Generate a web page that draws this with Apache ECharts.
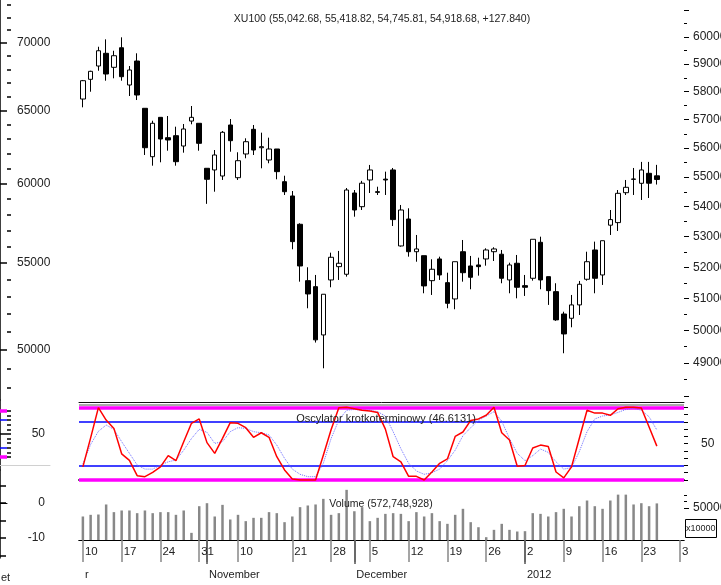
<!DOCTYPE html>
<html><head><meta charset="utf-8">
<script src="https://cdn.jsdelivr.net/npm/echarts@6/dist/echarts.min.js"></script>
<style>html,body{margin:0;padding:0;background:#fff}#c{width:721px;height:585px}</style>
</head><body><div id="c"></div>
<script>
const dates = ['2011-10-10','2011-10-11','2011-10-12','2011-10-13','2011-10-14','2011-10-17','2011-10-18','2011-10-19','2011-10-20','2011-10-21',
'2011-10-24','2011-10-25','2011-10-26','2011-10-27','2011-10-28','2011-10-31','2011-11-01','2011-11-02','2011-11-03','2011-11-04',
'2011-11-10','2011-11-11','2011-11-14','2011-11-15','2011-11-16','2011-11-17','2011-11-18','2011-11-21','2011-11-22','2011-11-23',
'2011-11-24','2011-11-25','2011-11-28','2011-11-29','2011-11-30','2011-12-01','2011-12-02','2011-12-05','2011-12-06','2011-12-07',
'2011-12-08','2011-12-09','2011-12-12','2011-12-13','2011-12-14','2011-12-15','2011-12-16','2011-12-19','2011-12-20','2011-12-21',
'2011-12-22','2011-12-23','2011-12-26','2011-12-27','2011-12-28','2011-12-29','2011-12-30','2012-01-02','2012-01-03','2012-01-04',
'2012-01-05','2012-01-06','2012-01-09','2012-01-10','2012-01-11','2012-01-12','2012-01-13','2012-01-16','2012-01-17','2012-01-18',
'2012-01-19','2012-01-20','2012-01-23','2012-01-24','2012-01-25','2012-01-26','2012-01-27','2012-01-30'];

const opens  = [57733,58444,58929,59396,58881,59602,58238,59112,57401,55701,57080,56363,56433,56072,56948,56869,55301,55244,55037,56809,
54979,55795,56657,56013,55587,55968,54843,54358,53411,51572,51381,49862,51595,52023,51778,54459,53998,54901,54503,54930,
55244,52696,53586,52508,52379,51572,52272,51509,50990,52508,52045,52078,52272,52508,52426,51595,52133,51413,51649,52816,
51701,51222,50515,50381,50801,51617,52565,51755,53381,53466,54469,54935,54788,55129,55042.68];
const closes = [58394,58735,59491,58637,59307,58539,58783,57877,56013,56869,56317,56282,55529,56668,57080,56166,54924,55760,56552,56258,
55563,56222,55933,56048,55968,55186,54503,52838,52045,51148,49710,51139,52327,52133,54560,53887,54792,55244,54480,54901,
53566,53887,52508,52598,51404,51939,51755,50852,52183,51828,51681,52023,52565,52598,51649,52078,51361,51361,52915,51595,
51254,50331,49893,50801,51457,52183,51649,52868,53566,54448,54652,54924,55244,54790.84,54918.68];
const lows   = [57436,57995,58757,58394,58481,58394,57841,57697,55760,55391,55508,55909,55391,55840,56834,55909,54093,54503,54901,55874,
54901,55646,55760,55301,55474,54924,54392,52588,51540,50695,49627,48840,51361,51595,51701,53663,53887,54459,54392,54392,
53354,52673,52347,52183,51170,51116,51595,50695,50664,51540,51297,51733,52055,52207,51489,51170,51010,51085,51572,51297,
50801,50300,49298,50100,50485,51572,51170,51435,53057,53189,54392,54392,54223,54290,54745.81];
const highs  = [58420,58757,59639,59914,59491,59989,58929,59396,57401,56960,57080,57127,56749,56844,57483,56869,55301,55933,56598,57020,
55854,56341,56809,56538,56363,55968,55047,54526,53444,52003,51755,51139,52477,52533,54628,54560,54870,55416,54672,55186,
55312,54055,53944,53057,52379,52262,52347,51828,52183,52892,52370,52314,52620,52653,52565,52151,52402,51755,52915,53001,
51701,51489,50587,51116,51563,52508,52838,52868,53887,54560,54901,55312,55521,55521,55418.82];

const oscK = [18,58,99.5,82.5,71,36,27,6,4.6,10.5,18,33.5,26.6,52.7,78,84,51.4,36.7,57.3,78.9,
78,72,58.7,65,58.7,32,13.8,1.4,0,0,0,34,69,99.5,100,98,96,95,93,70,
32,25,5,5,0,11,23,29,60,66,82,84,89,100,65,55,19,20,44,48,
46,11,3,18,57,96,92,92,89,98,100,100,99,73,46.6131];
const oscD = [22,49,67,75.6,69.7,52.7,36.7,20.6,15,15,20.6,25,27.5,41,57,69.7,65.6,50.4,52.7,66.5,
72,71,66.5,65,62,48,29.8,15,7.8,4.6,4.6,23,57,82.5,96,97,96,96,94,88,
66.5,43,22.9,12.4,7.8,10,15,26.6,41,61,72,82,88,94,81,57,36.7,26.6,33.5,42.6,
38,25,15,17,39,66.5,84,88,89.4,93,97,98.6,96,87,68.8];
const volume = [36800,39400,39900,55600,43600,46200,46200,42000,46200,42000,43600,43600,39400,46200,11200,52900,57600,36800,55000,32100,
39400,29500,34700,34700,43600,42000,27900,36800,51400,54000,55600,64400,39400,42000,78500,45000,51400,29500,34700,40900,
42000,40900,29500,43600,36800,42000,29500,25300,39400,48800,27900,20000,4400,15900,25300,15900,13300,13800,42000,40900,
36800,43600,48800,36800,52900,61800,52900,48800,61800,71000,71000,55600,57600,52900,57274.8928];

const oscLevels = [100, 80, 20, 0];
const priceMajorTicks = [48000,49000,50000,51000,52000,53000,54000,55000,56000,57000,58000,59000,60000,61000];
const priceMinorTicks = [48500,49500,50500,51500,52500,53500,54500,55500,56500,57500,58500,59500,60500];
const priceLabels = [49000,50000,51000,52000,53000,54000,55000,56000,57000,58000,59000,60000];
const ghostMajor = [50000,55000,60000,65000,70000];
const ghostMinor = [48000,49000,51000,52000,53000,54000,56000,57000,58000,59000,61000,62000,63000,64000,66000,67000,68000,69000,71000,72000,73000];
const oscTicks = [0,10,20,30,40,50,60,70,80,90,100];
const oscLabels = [50];
const volMajor = [50000], volMinor = [60000,70000];
const ghostOscMajor = [0,50,100], ghostOscLabels = [50];
const ghostLowTicks = [5,0,-5,-10,-15], ghostLowLabels = [0,-10];
const weekStarts = [0,5,10,15,20,27,32,37,42,47,52,57,62,67,72,77];
const monthStarts = [16,35,57];
const monthLabels = {0:'r',16:'November',35:'December',57:'2012'};

const FONT = "'Liberation Sans',Arial,sans-serif";
const TXT = '#222';
const L = 79, W = 605;

const chart = echarts.init(document.getElementById('c'), null, {renderer:'canvas'});
const candles = opens.map((o,i)=>[Math.log(o), Math.log(closes[i]), Math.log(lows[i]), Math.log(highs[i])]);
const lbl = (extra)=>Object.assign({fontFamily:FONT, color:TXT, fontSize:12}, extra);
const noSplit = {show:false};
const ttl = (size)=>({fontSize:size, fontWeight:'normal', fontFamily:FONT, color:TXT});
const g = (o)=>Object.assign({outerBoundsMode:'none', containLabel:false}, o);
const plain = (v)=>String(v);
const dayLabel = (v,i)=>{ const s = String(parseInt(v.slice(8),10)); return i === dates.length-1 ? s.slice(0,1) : s; };

const option = {
  animation:false,
  backgroundColor:'#fff',
  title:[
    {text:'XU100 (55,042.68, 55,418.82, 54,745.81, 54,918.68, +127.840)', left:382, top:14, textAlign:'center', padding:0, textStyle:ttl(10.5)},
    {text:'Oscylator krotkoterminowy (46.6131)', left:386, top:413, textAlign:'center', padding:0, textStyle:ttl(11)},
    {text:'Volume (572,748,928)', left:381, top:499, textAlign:'center', padding:0, textStyle:ttl(10.5)},
    {text:'x10000', left:685, top:519, padding:[5,1,5,1], borderColor:'#000', borderWidth:1, textStyle:ttl(9)},
    {text:'et', left:1, top:572, padding:0, textStyle:ttl(11)}
  ],
  grid:[
    g({left:L, width:W, top:0, height:400}),
    g({left:L, width:W, top:402, height:80}),
    g({left:L, width:W, top:483, height:57}),
    g({left:0, width:7, top:0, height:400}),
    g({left:0, width:7, top:400, height:70}),
    g({left:0, width:7, top:470, height:88}),
    g({left:0, width:50, top:400, height:65})
  ],
  xAxis:[
    {gridIndex:0, type:'category', data:dates, show:false},
    {gridIndex:1, type:'category', data:dates, position:'bottom', axisLine:{lineStyle:{color:'#333', width:2}}, axisTick:{show:false}, axisLabel:{show:false}},
    {gridIndex:1, type:'category', data:dates, position:'top', axisLine:{lineStyle:{color:'#111', width:1}}, axisTick:{show:false}, axisLabel:{show:false}},
    {gridIndex:2, type:'category', data:dates, position:'bottom',
     axisLine:{lineStyle:{color:'#000', width:1}},
     axisTick:{show:true, alignWithLabel:true, length:22, interval:(i)=>weekStarts.includes(i)||monthStarts.includes(i), lineStyle:{color:'#888', width:1.5}},
     axisLabel:{interval:(i)=>weekStarts.includes(i), formatter:dayLabel, align:'left', padding:[0,0,0,2], margin:6, ...lbl({fontSize:11.5})}},
    {gridIndex:2, type:'category', data:dates, position:'bottom', offset:22,
     axisLine:{lineStyle:{color:'#000', width:1}},
     axisTick:{show:true, alignWithLabel:true, length:24, interval:(i)=>monthStarts.includes(i), lineStyle:{color:'#555', width:1.5}},
     axisLabel:{interval:(i)=>monthLabels[i]!==undefined, formatter:(v,i)=>monthLabels[i]||'', align:'left', padding:[0,0,0,2], margin:7, ...lbl({fontSize:11})}},
    {gridIndex:3, type:'value', show:false, min:0, max:1},
    {gridIndex:4, type:'value', show:false, min:0, max:1},
    {gridIndex:5, type:'value', min:0, max:1, axisLine:{show:true, lineStyle:{color:'#000'}}, axisTick:{show:false}, axisLabel:{show:false}, splitLine:noSplit},
    {gridIndex:6, type:'value', min:0, max:1, axisLine:{show:true, lineStyle:{color:'#d0d0d0'}}, axisTick:{show:false}, axisLabel:{show:false}, splitLine:noSplit}
  ],
  yAxis:[
    {gridIndex:0, type:'value', position:'right', min:10.7766, max:11.0251, splitLine:noSplit, axisLine:{show:false},
     axisTick:{show:true, customValues:priceMajorTicks.map(Math.log), length:5, lineStyle:{color:'#000'}},
     axisLabel:{customValues:priceLabels.map(Math.log), formatter:(v)=>String(Math.round(Math.exp(v))), margin:9, ...lbl({})}},
    {gridIndex:0, type:'value', position:'right', min:10.7766, max:11.0251, splitLine:noSplit, axisLine:{show:false},
     axisTick:{show:true, customValues:priceMinorTicks.map(Math.log), length:3, lineStyle:{color:'#000'}}, axisLabel:{show:false}},
    {gridIndex:1, type:'value', position:'right', min:-2.75, max:107.3, splitLine:noSplit, axisLine:{show:false},
     axisTick:{show:true, customValues:oscTicks, length:4, lineStyle:{color:'#000'}},
     axisLabel:{customValues:oscLabels, formatter:plain, margin:17, ...lbl({})}},
    {gridIndex:2, type:'value', position:'right', min:0, max:89205, splitLine:noSplit, axisLine:{show:false},
     axisTick:{show:true, customValues:volMajor, length:5, lineStyle:{color:'#000'}},
     axisLabel:{customValues:volMajor, formatter:plain, margin:9, ...lbl({})}},
    {gridIndex:2, type:'value', position:'right', min:0, max:89205, splitLine:noSplit, axisLine:{show:false},
     axisTick:{show:true, customValues:volMinor, length:3, lineStyle:{color:'#000'}}, axisLabel:{show:false}},
    {gridIndex:3, type:'value', position:'right', min:10.7650, max:11.2034, splitLine:noSplit,
     axisLine:{show:true, lineStyle:{color:'#000', width:1.5}},
     axisTick:{show:true, customValues:ghostMajor.map(Math.log), length:7, lineStyle:{color:'#000', width:1.5}},
     axisLabel:{customValues:ghostMajor.map(Math.log), formatter:(v)=>String(Math.round(Math.exp(v))), margin:10, ...lbl({})}},
    {gridIndex:3, type:'value', position:'right', min:10.7650, max:11.2034, splitLine:noSplit, axisLine:{show:false},
     axisTick:{show:true, customValues:ghostMinor.map(Math.log), length:4, lineStyle:{color:'#000', width:1.5}}, axisLabel:{show:false}},
    {gridIndex:4, type:'value', position:'right', min:-28.26, max:123.9, splitLine:noSplit,
     axisLine:{show:true, lineStyle:{color:'#000', width:1.5}},
     axisTick:{show:true, customValues:ghostOscMajor, length:7, lineStyle:{color:'#000', width:1.5}},
     axisLabel:{customValues:ghostOscLabels, formatter:plain, margin:38, align:'right', padding:[4,0,0,0], ...lbl({})}},
    {gridIndex:4, type:'value', position:'right', min:-28.26, max:123.9, splitLine:noSplit, axisLine:{show:false},
     axisTick:{show:true, customValues:oscTicks, length:4, lineStyle:{color:'#000', width:1.5}}, axisLabel:{show:false}},
    {gridIndex:5, type:'value', position:'right', min:-15.71, max:9.43, splitLine:noSplit,
     axisLine:{show:true, lineStyle:{color:'#000', width:1.5}},
     axisTick:{show:true, customValues:ghostLowTicks, length:6, lineStyle:{color:'#000', width:1.5}},
     axisLabel:{customValues:ghostLowLabels, formatter:plain, margin:38, align:'right', ...lbl({})}},
    {gridIndex:6, type:'value', show:false, min:0, max:1}
  ],
  series:[
    {type:'candlestick', xAxisIndex:0, yAxisIndex:0, data:candles, barWidth:5,
     itemStyle:{color:'#fff', color0:'#000', borderColor:'#000', borderColor0:'#000', borderWidth:1}},
    {type:'line', xAxisIndex:1, yAxisIndex:2, data:oscK, showSymbol:false, symbol:'none',
     lineStyle:{color:'#ff0000', width:1.5}, z:3,
     markLine:{silent:true, symbol:'none', z:1, label:{show:false},
       data:[
         {yAxis:104, lineStyle:{color:'#aaa', width:2, type:'solid'}},
         {yAxis:oscLevels[0], lineStyle:{color:'#ff00ff', width:3.5, type:'solid'}},
         {yAxis:oscLevels[1], lineStyle:{color:'#0000ff', width:1.5, type:'solid'}},
         {yAxis:oscLevels[2], lineStyle:{color:'#0000ff', width:1.5, type:'solid'}},
         {yAxis:oscLevels[3], lineStyle:{color:'#ff00ff', width:3.5, type:'solid'}}
       ]}},
    {type:'line', xAxisIndex:1, yAxisIndex:2, data:oscD, showSymbol:false, symbol:'none',
     lineStyle:{color:'#7070ff', width:1, type:'dotted'}, z:2},
    {type:'bar', xAxisIndex:3, yAxisIndex:3, data:volume, barWidth:2.5, itemStyle:{color:'#888'}},
    {type:'line', xAxisIndex:6, yAxisIndex:7, data:[], showSymbol:false,
     markLine:{silent:true, symbol:'none', label:{show:false},
       data:[
         {yAxis:oscLevels[0], lineStyle:{color:'#ff00ff', width:3.5, type:'solid'}},
         {yAxis:oscLevels[1], lineStyle:{color:'#0000ff', width:1.5, type:'solid'}},
         {yAxis:oscLevels[2], lineStyle:{color:'#0000ff', width:1.5, type:'solid'}},
         {yAxis:oscLevels[3], lineStyle:{color:'#ff00ff', width:3.5, type:'solid'}}
       ]}}
  ]
};
chart.setOption(option);
</script></body></html>
